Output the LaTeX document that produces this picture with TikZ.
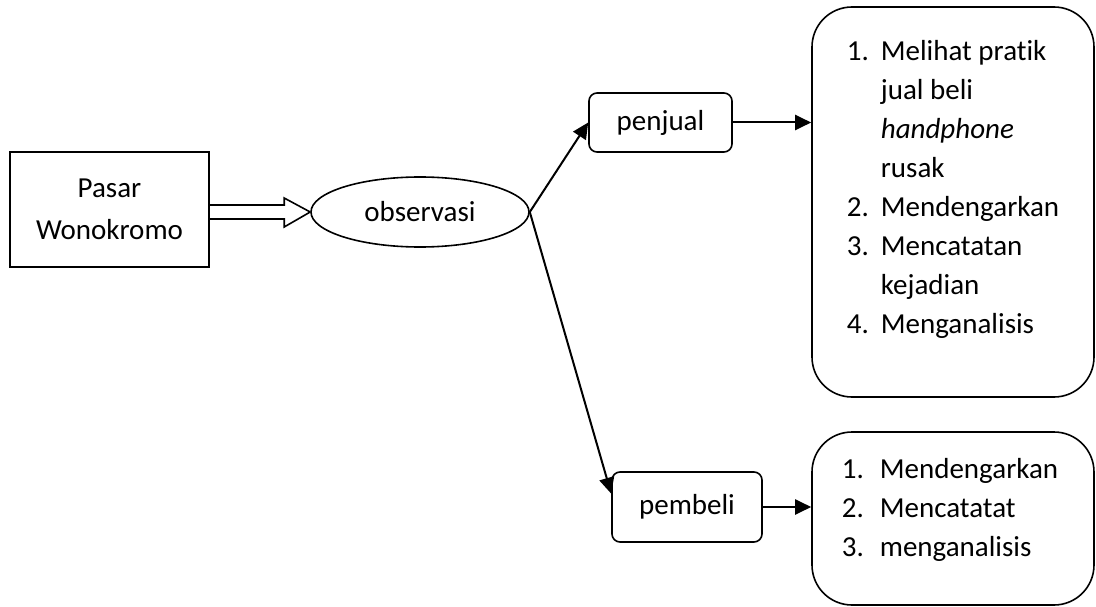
\documentclass[tikz,border=0pt]{standalone}
\usepackage{fontspec}
\setmainfont{Carlito}[Ligatures=CommonOff]
\usetikzlibrary{arrows.meta,shapes.geometric}

\begin{document}
\begin{tikzpicture}[x=1pt,y=-1pt,
  every node/.style={font=\fontsize{29}{39}\selectfont},
  plainbox/.style={draw,line width=1.6pt,inner sep=0pt},
  smallbox/.style={plainbox,rounded corners=8pt},
  listbox/.style={plainbox,rounded corners=40pt},
  flow/.style={line width=2pt,-{Triangle[length=16pt,width=15pt]}},
  hollow/.style={line width=1.6pt,line join=miter}]
\useasboundingbox (0,0) rectangle (1096,607);
\node[plainbox,minimum width=199,minimum height=115,align=center,font=\fontsize{29}{42}\selectfont] (pasar) at (109.5,209.5) {Pasar\\Wonokromo};
\node[plainbox,ellipse,minimum width=218,minimum height=70] (obs) at (420,212) {observasi};
\node[smallbox,minimum width=143,minimum height=59] (jual) at (660.5,122.5) {penjual};
\node[smallbox,minimum width=150,minimum height=70] (beli) at (687,507) {pembeli};
\node[listbox,minimum width=282,minimum height=390] (jualbox) at (953,202) {};
\node (jualtext) at (953,189) {\begin{tabular}{@{}l@{\hspace{12pt}}l@{}}
1.&Melihat pratik\\
 &jual beli\\
 &\textit{handphone}\\
 &rusak\\
2.&Mendengarkan\\
3.&Mencatatan\\
 &kejadian\\
4.&Menganalisis
\end{tabular}};
\node[listbox,minimum width=282,minimum height=173] (belibox) at (953,518.5) {};
\node (belitext) at (950,510) {\begin{tabular}{@{}l@{\hspace{16pt}}l@{}}
1.&Mendengarkan\\
2.&Mencatatat\\
3.&menganalisis
\end{tabular}};
\draw[hollow] (obs.west) -- ++(-26,-14) -- ++(0,7) coordinate (s1) -- (s1 -| pasar.east);
\draw[hollow] (obs.west) -- ++(-26,15) -- ++(0,-8) coordinate (s2) -- (s2 -| pasar.east);
\draw[flow] (obs.east) -- (jual.west);
\draw[flow] (obs.east) -- (beli.170);
\draw[flow] (jual.east) -- (jual.east -| jualbox.west);
\draw[flow] (beli.east) -- (beli.east -| belibox.west);
\end{tikzpicture}
\end{document}
